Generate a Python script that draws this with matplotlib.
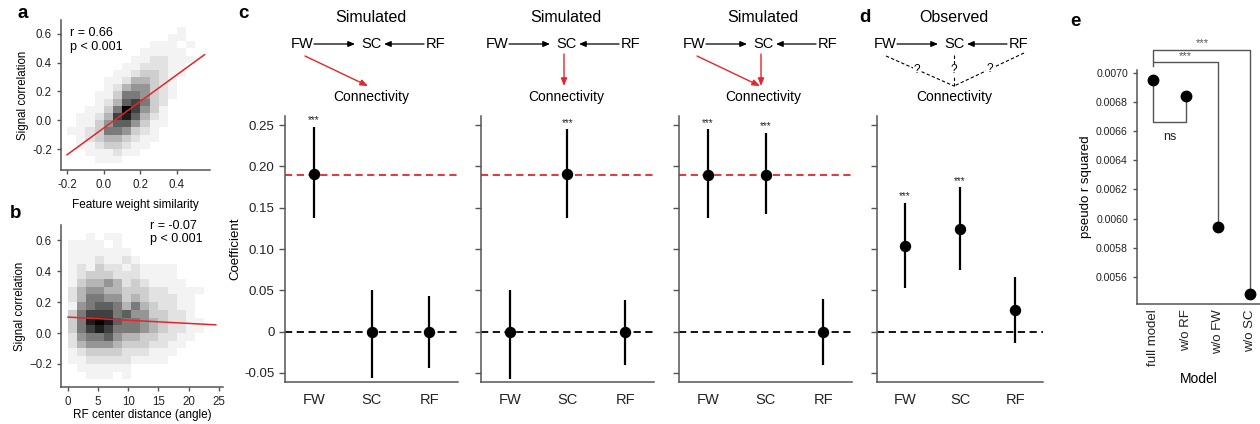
import matplotlib.pyplot as plt
import numpy as np

plt.rcParams['font.family'] = ['Liberation Sans', 'DejaVu Sans']

# ---- data ----
# panel a: 2D histogram (rows top->bottom, y bins 0.60 ... -0.30, x bins -0.20 ... 0.50)
a_xedges = np.arange(-0.2, 0.551, 0.05)
a_yedges = np.arange(-0.3, 0.651, 0.05)
a_counts = [
    [0, 0, 0, 0, 0, 0, 0, 0, 0, 0, 0, 0, 1, 0, 0],
    [0, 0, 0, 0, 0, 0, 0, 0, 0, 0, 0, 1, 1, 0, 0],
    [0, 0, 0, 0, 0, 0, 0, 0, 0, 1, 1, 1, 0, 1, 0],
    [0, 0, 0, 0, 0, 0, 0, 0, 1, 1, 1, 1, 1, 0, 0],
    [0, 0, 0, 0, 0, 0, 0, 1, 1, 2, 2, 1, 1, 1, 0],
    [0, 0, 0, 0, 0, 0, 1, 1, 2, 2, 2, 1, 1, 0, 0],
    [0, 0, 0, 0, 0, 1, 1, 2, 3, 3, 2, 1, 1, 0, 0],
    [0, 0, 0, 0, 1, 1, 2, 4, 4, 3, 2, 1, 0, 0, 0],
    [0, 0, 0, 0, 1, 2, 4, 5, 5, 3, 2, 1, 0, 0, 0],
    [0, 0, 0, 1, 1, 3, 6, 6, 5, 3, 2, 1, 0, 0, 0],
    [0, 0, 0, 1, 2, 4, 7, 8, 6, 3, 2, 0, 0, 0, 0],
    [0, 0, 1, 1, 3, 6, 10, 8, 5, 3, 1, 0, 0, 0, 0],
    [0, 1, 1, 2, 4, 8, 9, 7, 4, 2, 1, 0, 0, 0, 0],
    [0, 1, 1, 3, 5, 7, 7, 5, 3, 1, 1, 0, 0, 0, 0],
    [1, 1, 2, 3, 6, 6, 5, 3, 2, 1, 0, 0, 0, 0, 0],
    [0, 1, 2, 3, 4, 4, 3, 2, 1, 1, 0, 0, 0, 0, 0],
    [0, 1, 1, 2, 3, 3, 2, 1, 1, 0, 0, 0, 0, 0, 0],
    [0, 0, 1, 1, 1, 2, 1, 1, 0, 0, 0, 0, 0, 0, 0],
    [0, 0, 0, 1, 1, 1, 0, 0, 0, 0, 0, 0, 0, 0, 0],
]
a_fit_x = [-0.2, 0.55]
a_fit_y = [-0.24, 0.456]

# panel b: 2D histogram (x bins of 1.5 deg from 0 to 24)
b_xedges = np.arange(0, 24.01, 1.5)
b_yedges = np.arange(-0.3, 0.651, 0.05)
b_counts = [
    [0, 0, 1, 0, 1, 1, 0, 0, 0, 0, 0, 0, 0, 0, 0, 0],
    [1, 1, 1, 1, 0, 1, 0, 0, 0, 0, 0, 0, 0, 0, 0, 0],
    [1, 1, 1, 1, 1, 1, 1, 0, 0, 0, 0, 0, 0, 0, 0, 0],
    [1, 1, 1, 2, 1, 1, 2, 1, 0, 0, 0, 0, 0, 0, 0, 0],
    [1, 2, 1, 3, 2, 2, 1, 2, 1, 1, 1, 1, 0, 0, 0, 0],
    [1, 2, 3, 3, 3, 2, 2, 2, 1, 1, 1, 1, 0, 0, 0, 0],
    [1, 3, 4, 4, 5, 4, 2, 3, 2, 1, 1, 1, 1, 0, 0, 0],
    [2, 4, 5, 5, 4, 4, 3, 3, 3, 2, 2, 1, 1, 1, 1, 0],
    [2, 4, 6, 6, 5, 5, 3, 4, 3, 2, 2, 2, 1, 1, 0, 0],
    [1, 5, 6, 7, 7, 6, 4, 6, 4, 3, 2, 2, 1, 1, 0, 0],
    [3, 6, 8, 8, 8, 6, 7, 5, 5, 3, 3, 2, 2, 1, 0, 0],
    [3, 6, 9, 10, 9, 7, 6, 6, 5, 4, 3, 2, 2, 1, 1, 0],
    [3, 6, 8, 9, 8, 6, 6, 6, 5, 4, 3, 2, 2, 1, 1, 0],
    [2, 5, 6, 6, 7, 5, 4, 4, 3, 3, 2, 2, 1, 1, 0, 0],
    [2, 4, 5, 5, 5, 4, 3, 3, 3, 2, 2, 1, 1, 0, 0, 0],
    [1, 2, 3, 3, 3, 3, 2, 2, 2, 1, 1, 1, 0, 0, 0, 0],
    [1, 1, 2, 2, 2, 2, 2, 1, 1, 1, 1, 0, 0, 0, 0, 0],
    [0, 1, 1, 1, 1, 1, 1, 0, 0, 0, 0, 0, 0, 0, 0, 0],
    [0, 0, 1, 1, 1, 0, 1, 0, 0, 0, 0, 0, 0, 0, 0, 0],
]
b_fit_x = [0, 24.5]
b_fit_y = [0.103, 0.053]

# panels c/d: regression coefficients with confidence intervals
predictors = ['FW', 'SC', 'RF']
c1_coef = [0.191, 0.0, 0.0]
c1_lo = [0.137, -0.056, -0.044]
c1_hi = [0.248, 0.050, 0.043]
c2_coef = [0.0, 0.191, 0.0]
c2_lo = [-0.057, 0.137, -0.040]
c2_hi = [0.050, 0.245, 0.038]
c3_coef = [0.190, 0.190, 0.0]
c3_lo = [0.137, 0.142, -0.040]
c3_hi = [0.245, 0.241, 0.039]
d_coef = [0.104, 0.124, 0.026]
d_lo = [0.053, 0.074, -0.014]
d_hi = [0.156, 0.175, 0.066]
true_effect = 0.19
c_sig = [[True, False, False], [False, True, False], [True, True, False]]
d_sig = [True, True, False]

# panel e: model comparison
models = ['full model', 'w/o RF', 'w/o FW', 'w/o SC']
pseudo_r2 = [0.00695, 0.00684, 0.005943, 0.005481]

# ---- figure ----
W, H = 1260, 424
fig = plt.figure(figsize=(W / 100, H / 100), dpi=100)
SP = '#555555'
RED = '#e4262a'


def px_axes(l, t, r, b):
    return fig.add_axes([l / W, 1 - b / H, (r - l) / W, (b - t) / H])


def style(ax):
    for s in ['top', 'right']:
        ax.spines[s].set_visible(False)
    for s in ['left', 'bottom']:
        ax.spines[s].set_color(SP)
        ax.spines[s].set_linewidth(1.1)
    ax.tick_params(color=SP, width=1, length=3, labelcolor='#222222')


# panel a
ax = px_axes(61, 20, 210, 170)
style(ax)
ax.pcolormesh(a_xedges, a_yedges, np.array(a_counts)[::-1], cmap='Greys',
              vmin=0, vmax=10, antialiased=False)
ax.plot(a_fit_x, a_fit_y, color=RED, lw=1.1)
ax.set_xlim(-0.233, 0.58)
ax.set_ylim(-0.346, 0.697)
ax.set_xticks([-0.2, 0.0, 0.2, 0.4], ['-0.2', '0.0', '0.2', '0.4'])
ax.set_yticks([-0.2, 0.0, 0.2, 0.4, 0.6], ['-0.2', '0.0', '0.2', '0.4', '0.6'])
ax.tick_params(labelsize=8.3)
ax.set_xlabel('Feature weight similarity', fontsize=8.5, labelpad=6)
ax.set_ylabel('Signal correlation', fontsize=8.3, labelpad=2)
ax.text(0.06, 0.95, 'r = 0.66\np < 0.001', transform=ax.transAxes,
        fontsize=9, va='top', linespacing=1.15)

# panel b
ax = px_axes(61, 225, 223, 387)
style(ax)
ax.pcolormesh(b_xedges, b_yedges, np.array(b_counts)[::-1], cmap='Greys',
              vmin=0, vmax=10, antialiased=False)
ax.plot(b_fit_x, b_fit_y, color=RED, lw=1.1)
ax.set_xlim(-1.16, 25.7)
ax.set_ylim(-0.35, 0.70)
ax.set_xticks([0, 5, 10, 15, 20, 25])
ax.set_yticks([-0.2, 0.0, 0.2, 0.4, 0.6], ['\u22120.2', '0.0', '0.2', '0.4', '0.6'])
ax.tick_params(labelsize=8.3)
ax.set_xlabel('RF center distance (angle)', fontsize=8.5, labelpad=1)
ax.set_ylabel('Signal correlation', fontsize=8.3, labelpad=2)
ax.text(0.55, 1.03, 'r = -0.07\np < 0.001', transform=ax.transAxes,
        fontsize=9, va='top', linespacing=1.15)


def coef_panel(ax, coef, lo, hi, sig, ref=None, labels=False):
    style(ax)
    x = np.arange(len(predictors))
    coef = np.array(coef)
    ax.axhline(0, color='k', ls=(0, (4, 2.5)), lw=1.3, zorder=1)
    if ref is not None:
        ax.axhline(ref, color=RED, ls=(0, (4, 2.5)), lw=1.3, zorder=1)
    ax.errorbar(x, coef, yerr=[coef - np.array(lo), np.array(hi) - coef],
                fmt='o', color='k', ms=7.2, elinewidth=1.6, capsize=0, zorder=3)
    for xi, h, s in zip(x, hi, sig):
        if s:
            ax.annotate('***', (xi, h), xytext=(0, 1), textcoords='offset points',
                        ha='center', va='bottom', fontsize=7, color='#222222')
    ax.set_xlim(-0.5, 2.5)
    ax.set_ylim(-0.061, 0.261)
    ax.set_xticks(x, predictors)
    ax.set_yticks([-0.05, 0, 0.05, 0.10, 0.15, 0.20, 0.25])
    if labels:
        ax.set_yticklabels(['-0.05', '0', '0.05', '0.10', '0.15', '0.20', '0.25'])
        ax.set_ylabel('Coefficient', fontsize=9.5, labelpad=2)
    else:
        ax.set_yticklabels([])
    ax.tick_params(axis='x', length=0, labelsize=10.5, pad=8)
    ax.tick_params(axis='y', labelsize=9.5, length=4)


c_sets = [(c1_coef, c1_lo, c1_hi), (c2_coef, c2_lo, c2_hi), (c3_coef, c3_lo, c3_hi)]
c_left = [285, 481, 679]
for i, (cf, lo, hi) in enumerate(c_sets):
    ax = px_axes(c_left[i], 116, c_left[i] + 173, 382)
    coef_panel(ax, cf, lo, hi, c_sig[i], ref=true_effect, labels=(i == 0))

ax = px_axes(877, 116, 1043, 382)
coef_panel(ax, d_coef, d_lo, d_hi, d_sig)

# panel e
ax = px_axes(1137, 70, 1260, 304)
style(ax)
xm = np.arange(len(models))
ax.plot(xm, pseudo_r2, 'o', color='k', ms=7.5, zorder=3, clip_on=False)
GR = '#555555'
ax.plot([0, 0, 1, 1], [pseudo_r2[0], 0.006664, 0.006664, pseudo_r2[1]], color=GR, lw=1, zorder=2)
ax.text(0.5, 0.00656, 'ns', ha='center', va='center', fontsize=9, color='#222222')
ax.plot([0, 0, 2, 2], [0.00705, 0.007075, 0.007075, pseudo_r2[2]], color=GR, lw=1,
        clip_on=False, zorder=2)
ax.plot([0, 0, 3, 3], [0.007085, 0.00716, 0.00716, pseudo_r2[3]], color=GR, lw=1,
        clip_on=False, zorder=2)
ax.text(1.0, 0.007082, '***', ha='center', va='bottom', fontsize=8, color=GR)
ax.text(1.5, 0.007168, '***', ha='center', va='bottom', fontsize=8, color=GR)
ax.set_xlim(-0.51, 3.3)
ax.set_ylim(0.005413, 0.00702)
ax.set_yticks(np.arange(0.0056, 0.00701, 0.0002),
              ['%.4f' % v for v in np.arange(0.0056, 0.00701, 0.0002)])
ax.set_xticks(xm, models, rotation=90)
ax.tick_params(axis='x', length=0, labelsize=9.5, pad=4)
ax.tick_params(axis='y', labelsize=7.6, length=3)
ax.set_xlabel('Model', fontsize=10)
ax.set_ylabel('pseudo r squared', fontsize=9.5, labelpad=3)

# overlay: causal diagrams and panel letters
ov = fig.add_axes([0, 0, 1, 1])
ov.set_xlim(0, W)
ov.set_ylim(H, 0)
ov.axis('off')

kinds = ['fw', 'sc', 'both', 'obs']
centers = [371, 566, 763, 954]
titles = ['Simulated', 'Simulated', 'Simulated', 'Observed']
blk = dict(arrowstyle='-|>,head_length=0.4,head_width=0.17', color='k', lw=0.9,
           shrinkA=0, shrinkB=0)
red = dict(arrowstyle='-|>,head_length=0.45,head_width=0.18', color=RED, lw=1.0,
           shrinkA=0, shrinkB=0)
for cx, kind, ttl in zip(centers, kinds, titles):
    ov.text(cx, 17, ttl, ha='center', va='center', fontsize=11.5)
    ov.text(cx - 69, 44, 'FW', ha='center', va='center', fontsize=10.5)
    ov.text(cx, 44, 'SC', ha='center', va='center', fontsize=10.5)
    ov.text(cx + 65, 44, 'RF', ha='center', va='center', fontsize=10.5)
    ov.text(cx, 97, 'Connectivity', ha='center', va='center', fontsize=10)
    ov.annotate('', (cx - 16, 44), (cx - 57, 44), arrowprops=blk)
    ov.annotate('', (cx + 13, 44), (cx + 53, 44), arrowprops=blk)
    if kind in ('fw', 'both'):
        ov.annotate('', (cx - 3, 86), (cx - 66, 56), arrowprops=red)
    if kind in ('sc', 'both'):
        ov.annotate('', (cx - 2, 86), (cx - 2, 54), arrowprops=red)
    if kind == 'obs':
        for sx, sy, qx in [(cx - 68, 56, cx - 37), (cx, 55, cx), (cx + 70, 53, cx + 36)]:
            ov.plot([sx, cx], [sy, 86], color='k', lw=0.8, ls=(0, (3, 2)))
            qy = sy + (86 - sy) * (qx - sx) / (cx - sx) if sx != cx else 70
            ov.text(qx, qy, '?', ha='center', va='center', fontsize=8.5,
                    bbox=dict(fc='white', ec='none', pad=0.3))

for lab, x, y in [('a', 23, 14), ('b', 16, 213), ('c', 243, 14), ('d', 865, 17), ('e', 1075, 22)]:
    ov.text(x, y, lab, ha='center', va='center', fontsize=13.5, fontweight='bold')

fig.savefig('out.png', dpi=100)
